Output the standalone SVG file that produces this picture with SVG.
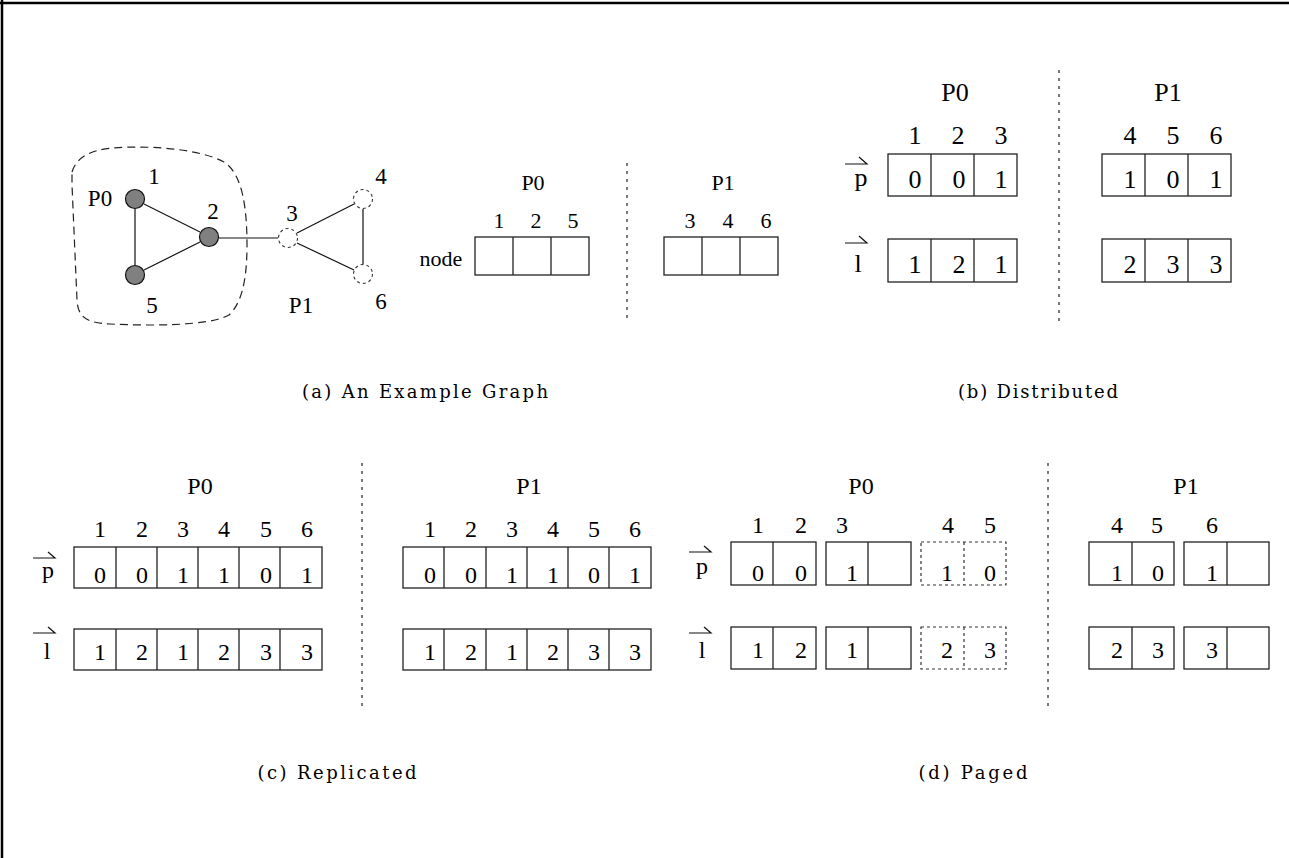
<svg xmlns="http://www.w3.org/2000/svg" width="1289" height="858" viewBox="0 0 1289 858">
<style>
text{font-family:"Liberation Serif","Times New Roman","DejaVu Serif",serif;fill:#000;text-anchor:middle}
.g{font-size:23px}
.n{font-size:22px}
.b{font-size:26px}
.c{font-size:24px}
.cap{font-family:"DejaVu Serif","Liberation Serif",serif;font-size:18px}
.cell{fill:none;stroke:#222;stroke-width:1.3}
.dcell{fill:none;stroke:#333;stroke-width:1.2;stroke-dasharray:3,3}
.edge{stroke:#111;stroke-width:1.2;fill:none}
.div{stroke:#333;stroke-width:1.3;stroke-dasharray:3,5}
.hp{stroke:#111;stroke-width:1.2;fill:none}
.full{fill:#808080;stroke:#111;stroke-width:1.2}
.ghost{fill:#fff;stroke:#333;stroke-width:1.1;stroke-dasharray:3,3}
</style>
<rect x="0" y="0" width="1289" height="858" fill="#fff"/>
<line x1="0" y1="3" x2="1289" y2="3" stroke="#000" stroke-width="2.5"/>
<line x1="2" y1="0" x2="2" y2="858" stroke="#000" stroke-width="2.5"/>

<!-- (a) graph -->
<path d="M72,172 C76,158 90,150 112,148 C150,145 200,149 224,162 C243,174 247,210 247,245 C247,282 241,304 229,315 C210,326 150,326 110,324 C86,323 78,317 77,300 L72,185 Z" fill="none" stroke="#222" stroke-width="1.2" stroke-dasharray="8,5"/>
<g id="connectors">
<line class="edge" x1="135" y1="209" x2="135" y2="265"/>
<line class="edge" x1="144" y1="204" x2="200" y2="232"/>
<line class="edge" x1="144" y1="270" x2="200" y2="242"/>
<line class="edge" x1="219" y1="238" x2="278" y2="238"/>
<line class="edge" x1="297" y1="233" x2="354" y2="204"/>
<line class="edge" x1="297" y1="243" x2="354" y2="270"/>
<line class="edge" x1="363" y1="209" x2="363" y2="264"/>
</g>
<g id="node1"><circle class="full" cx="135" cy="199" r="9.5"/><text class="g" x="154" y="184">1</text></g>
<g id="node2"><circle class="full" cx="209" cy="237" r="9.5"/><text class="g" x="213" y="219">2</text></g>
<g id="node5"><circle class="full" cx="135" cy="275" r="9.5"/><text class="g" x="152" y="313">5</text></g>
<g id="node3"><circle class="ghost" cx="288" cy="238" r="9.5"/><text class="g" x="292" y="221">3</text></g>
<g id="node4"><circle class="ghost" cx="363" cy="199" r="9.5"/><text class="g" x="381" y="184">4</text></g>
<g id="node6"><circle class="ghost" cx="363" cy="274" r="9.5"/><text class="g" x="381" y="309">6</text></g>
<text class="g" x="100" y="206">P0</text>
<text class="g" x="301" y="313">P1</text>

<!-- (a) node array -->
<g id="nodeArrayP0">
<text class="n" x="533" y="190">P0</text>
<text class="n" x="499" y="228">1</text><text class="n" x="536" y="228">2</text><text class="n" x="573" y="228">5</text>
<text class="n" x="441" y="266">node</text>
<rect class="cell" x="475" y="237" width="114" height="38"/>
<line class="cell" x1="513" y1="237" x2="513" y2="275"/><line class="cell" x1="551" y1="237" x2="551" y2="275"/>
</g>
<line class="div" x1="627" y1="163" x2="627" y2="323"/>
<g id="nodeArrayP1">
<text class="n" x="723" y="190">P1</text>
<text class="n" x="690" y="228">3</text><text class="n" x="728" y="228">4</text><text class="n" x="766" y="228">6</text>
<rect class="cell" x="664" y="237" width="114" height="38"/>
<line class="cell" x1="702" y1="237" x2="702" y2="275"/><line class="cell" x1="740" y1="237" x2="740" y2="275"/>
</g>
<text class="cap" x="425" y="398" textLength="246" lengthAdjust="spacing">(a) An Example Graph</text>

<!-- (b) distributed -->
<g id="distP0">
<text class="b" x="955" y="101">P0</text>
<text class="b" x="915" y="144">1</text><text class="b" x="958" y="144">2</text><text class="b" x="1001" y="144">3</text>
<path class="hp" d="M845,164 H867 L859,157"/>
<text class="b" x="861" y="186">p</text>
<rect class="cell" x="888" y="154" width="129" height="42"/>
<line class="cell" x1="931" y1="154" x2="931" y2="196"/><line class="cell" x1="974" y1="154" x2="974" y2="196"/>
<text class="b" x="915" y="188">0</text><text class="b" x="959" y="188">0</text><text class="b" x="1001" y="188">1</text>
<path class="hp" d="M845,243 H867 L859,236"/>
<text class="b" x="858" y="272">l</text>
<rect class="cell" x="888" y="239" width="129" height="43"/>
<line class="cell" x1="931" y1="239" x2="931" y2="282"/><line class="cell" x1="974" y1="239" x2="974" y2="282"/>
<text class="b" x="915" y="273">1</text><text class="b" x="959" y="273">2</text><text class="b" x="1001" y="273">1</text>
</g>
<line class="div" x1="1059" y1="70" x2="1059" y2="322"/>
<g id="distP1">
<text class="b" x="1168" y="101">P1</text>
<text class="b" x="1130" y="144">4</text><text class="b" x="1173" y="144">5</text><text class="b" x="1216" y="144">6</text>
<rect class="cell" x="1102" y="154" width="129" height="42"/>
<line class="cell" x1="1145" y1="154" x2="1145" y2="196"/><line class="cell" x1="1188" y1="154" x2="1188" y2="196"/>
<text class="b" x="1130" y="188">1</text><text class="b" x="1173" y="188">0</text><text class="b" x="1216" y="188">1</text>
<rect class="cell" x="1102" y="239" width="129" height="43"/>
<line class="cell" x1="1145" y1="239" x2="1145" y2="282"/><line class="cell" x1="1188" y1="239" x2="1188" y2="282"/>
<text class="b" x="1130" y="273">2</text><text class="b" x="1173" y="273">3</text><text class="b" x="1216" y="273">3</text>
</g>
<text class="cap" x="1038" y="398" textLength="160" lengthAdjust="spacing">(b) Distributed</text>

<!-- (c) replicated -->
<g id="replP0">
<text class="c" x="200" y="494">P0</text>
<text class="c" x="100" y="537">1</text><text class="c" x="142" y="537">2</text><text class="c" x="183" y="537">3</text><text class="c" x="224" y="537">4</text><text class="c" x="266" y="537">5</text><text class="c" x="307" y="537">6</text>
<path class="hp" d="M33,558 H55 L48,552"/>
<text class="c" x="48" y="578">p</text>
<rect class="cell" x="74" y="547" width="248" height="41"/>
<path class="cell" d="M116,547V588M157,547V588M198,547V588M239,547V588M280,547V588"/>
<text class="c" x="100" y="583">0</text><text class="c" x="142" y="583">0</text><text class="c" x="183" y="583">1</text><text class="c" x="224" y="583">1</text><text class="c" x="266" y="583">0</text><text class="c" x="307" y="583">1</text>
<path class="hp" d="M33,633 H55 L48,627"/>
<text class="c" x="47" y="659">l</text>
<rect class="cell" x="74" y="629" width="248" height="41"/>
<path class="cell" d="M116,629V670M157,629V670M198,629V670M239,629V670M280,629V670"/>
<text class="c" x="100" y="660">1</text><text class="c" x="142" y="660">2</text><text class="c" x="183" y="660">1</text><text class="c" x="224" y="660">2</text><text class="c" x="266" y="660">3</text><text class="c" x="307" y="660">3</text>
</g>
<line class="div" x1="362" y1="463" x2="362" y2="708"/>
<g id="replP1">
<text class="c" x="529" y="494">P1</text>
<text class="c" x="430" y="537">1</text><text class="c" x="471" y="537">2</text><text class="c" x="512" y="537">3</text><text class="c" x="553" y="537">4</text><text class="c" x="594" y="537">5</text><text class="c" x="635" y="537">6</text>
<rect class="cell" x="403" y="547" width="248" height="41"/>
<path class="cell" d="M444,547V588M486,547V588M527,547V588M568,547V588M609,547V588"/>
<text class="c" x="430" y="583">0</text><text class="c" x="471" y="583">0</text><text class="c" x="512" y="583">1</text><text class="c" x="553" y="583">1</text><text class="c" x="594" y="583">0</text><text class="c" x="635" y="583">1</text>
<rect class="cell" x="403" y="629" width="248" height="41"/>
<path class="cell" d="M444,629V670M486,629V670M527,629V670M568,629V670M609,629V670"/>
<text class="c" x="430" y="660">1</text><text class="c" x="471" y="660">2</text><text class="c" x="512" y="660">1</text><text class="c" x="553" y="660">2</text><text class="c" x="594" y="660">3</text><text class="c" x="635" y="660">3</text>
</g>
<text class="cap" x="337" y="779" textLength="159" lengthAdjust="spacing">(c) Replicated</text>

<!-- (d) paged -->
<g id="pagedP0">
<text class="c" x="861" y="494">P0</text>
<text class="c" x="758" y="533">1</text><text class="c" x="801" y="533">2</text><text class="c" x="842" y="533">3</text><text class="c" x="948" y="533">4</text><text class="c" x="990" y="533">5</text>
<path class="hp" d="M689,552 H711 L704,546"/>
<text class="c" x="702" y="574">p</text>
<rect class="cell" x="731" y="542" width="85" height="43"/><line class="cell" x1="773" y1="542" x2="773" y2="585"/>
<rect class="cell" x="826" y="542" width="85" height="43"/><line class="cell" x1="868" y1="542" x2="868" y2="585"/>
<rect class="dcell" x="921" y="542" width="85" height="43"/><line class="dcell" x1="964" y1="542" x2="964" y2="585"/>
<text class="c" x="758" y="581">0</text><text class="c" x="801" y="581">0</text><text class="c" x="852" y="581">1</text><text class="c" x="947" y="581">1</text><text class="c" x="990" y="581">0</text>
<path class="hp" d="M689,633 H711 L704,627"/>
<text class="c" x="702" y="658">l</text>
<rect class="cell" x="731" y="627" width="85" height="42"/><line class="cell" x1="773" y1="627" x2="773" y2="669"/>
<rect class="cell" x="826" y="627" width="85" height="42"/><line class="cell" x1="868" y1="627" x2="868" y2="669"/>
<rect class="dcell" x="921" y="627" width="85" height="42"/><line class="dcell" x1="964" y1="627" x2="964" y2="669"/>
<text class="c" x="758" y="658">1</text><text class="c" x="801" y="658">2</text><text class="c" x="852" y="658">1</text><text class="c" x="947" y="658">2</text><text class="c" x="990" y="658">3</text>
</g>
<line class="div" x1="1048" y1="463" x2="1048" y2="708"/>
<g id="pagedP1">
<text class="c" x="1186" y="494">P1</text>
<text class="c" x="1117" y="533">4</text><text class="c" x="1157" y="533">5</text><text class="c" x="1212" y="533">6</text>
<rect class="cell" x="1089" y="542" width="85" height="43"/><line class="cell" x1="1132" y1="542" x2="1132" y2="585"/>
<rect class="cell" x="1184" y="542" width="85" height="43"/><line class="cell" x1="1227" y1="542" x2="1227" y2="585"/>
<text class="c" x="1117" y="581">1</text><text class="c" x="1158" y="581">0</text><text class="c" x="1212" y="581">1</text>
<rect class="cell" x="1089" y="627" width="85" height="42"/><line class="cell" x1="1132" y1="627" x2="1132" y2="669"/>
<rect class="cell" x="1184" y="627" width="85" height="42"/><line class="cell" x1="1227" y1="627" x2="1227" y2="669"/>
<text class="c" x="1117" y="658">2</text><text class="c" x="1158" y="658">3</text><text class="c" x="1212" y="658">3</text>
</g>
<text class="cap" x="973" y="779" textLength="109" lengthAdjust="spacing">(d) Paged</text>
</svg>
